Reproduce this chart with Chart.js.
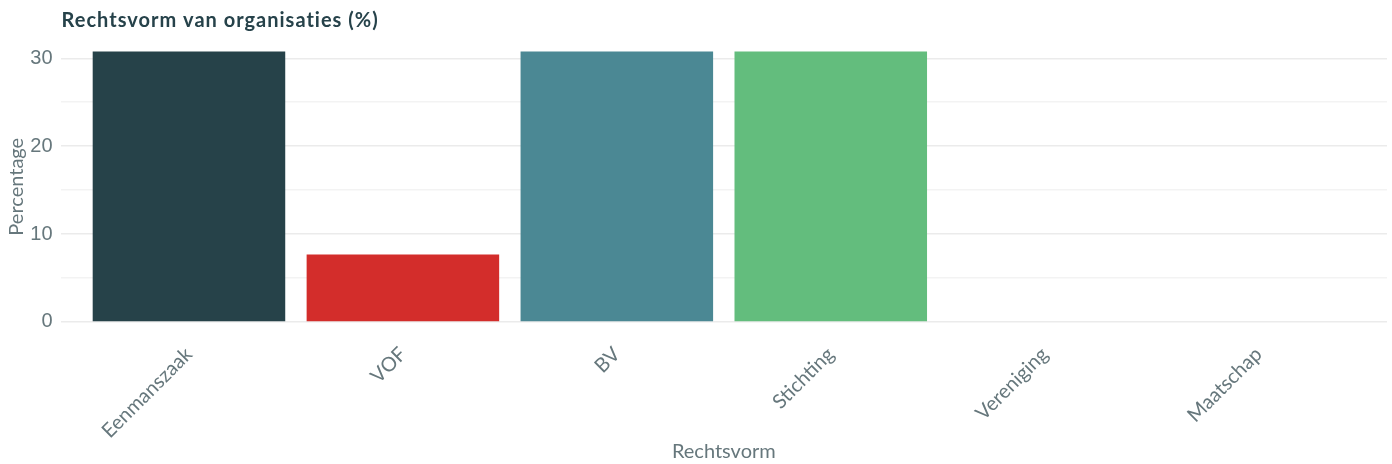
<!DOCTYPE html>
<html>
<head>
<meta charset="utf-8">
<script src="https://cdn.jsdelivr.net/npm/chart.js@4.4.1/dist/chart.umd.min.js"></script>
<style>
  html, body { margin: 0; padding: 0; background: #fff; }
  #wrap { width: 1392px; height: 464px; position: relative; }
</style>
</head>
<body>
<div id="wrap"><canvas id="chart" width="1392" height="464"></canvas></div>
<script>
const rechtsvormen = ['Eenmanszaak', 'VOF', 'BV', 'Stichting', 'Vereniging', 'Maatschap'];
const percentages = [30.77, 7.69, 30.77, 30.77, 0, 0];
const barColors = ['#264249', '#d32d2b', '#4b8894', '#63bd7d', '#9c9c9c', '#f0a830'];
const yTicks = [0, 5, 10, 15, 20, 25, 30];

const textColor = '#66777c';
const titleColor = '#26424a';

// title on the left edge of the plot panel (ZWNJ keeps Lato from joining "ti")
const panelTitle = {
    id: 'panelTitle',
    afterDraw(chart) {
        const ctx = chart.ctx;
        ctx.save();
        ctx.font = 'bold 20px Lato';
        ctx.letterSpacing = '1px';
        ctx.fillStyle = titleColor;
        ctx.textBaseline = 'middle';
        ctx.textAlign = 'left';
        ctx.fillText('Rechtsvorm van organisat\u200Cies (%)', chart.chartArea.left + 1, 21);
        ctx.restore();
    }
};

const ymax = Math.max(...percentages);
const pad = ymax * 0.05;

new Chart(document.getElementById('chart'), {
    type: 'bar',
    data: {
        datasets: [{
            data: percentages.map((v, i) => ({ x: i, y: v })),
            backgroundColor: barColors,
            borderWidth: 0,
            barPercentage: 0.9,
            categoryPercentage: 1
        }]
    },
    options: {
        responsive: false,
        animation: false,
        devicePixelRatio: 1,
        layout: { padding: { top: 38, right: 5, left: 0, bottom: 0 } },
        plugins: {
            legend: { display: false },
            tooltip: { enabled: false }
        },
        scales: {
            x: {
                type: 'linear',
                offset: false,
                min: -0.6,
                max: 5.6,
                afterBuildTicks: scale => {
                    scale.ticks = rechtsvormen.map((_, i) => ({ value: i }));
                },
                afterFit: scale => { scale.height = 128.5; },
                grid: { display: false, drawTicks: false },
                border: { display: false },
                ticks: {
                    autoSkip: false,
                    minRotation: 45,
                    maxRotation: 45,
                    padding: 7,
                    color: textColor,
                    font: { family: 'Lato', size: 20 },
                    callback: v => rechtsvormen[v]
                },
                title: {
                    display: true,
                    text: 'Rechtsvorm',
                    color: textColor,
                    font: { family: 'Lato', size: 20 },
                    padding: { top: 0, bottom: 0 }
                }
            },
            y: {
                min: -pad,
                max: ymax + pad,
                afterBuildTicks: scale => {
                    scale.ticks = yTicks.map(v => ({ value: v }));
                },
                afterFit: scale => { scale.width = 60.6; },
                grid: {
                    drawTicks: false,
                    lineWidth: 1.5,
                    color: c => (c.tick && c.tick.value % 10 === 0) ? '#ebebeb' : '#f3f3f3'
                },
                border: { display: false },
                ticks: {
                    padding: 8,
                    color: textColor,
                    font: { family: 'Liberation Sans', size: 20 },
                    callback: v => (v % 10 === 0 ? v : '')
                },
                title: {
                    display: true,
                    text: 'Percentage',
                    color: textColor,
                    font: { family: 'Lato', size: 20 },
                    padding: { top: 5, bottom: 0 }
                }
            }
        }
    },
    plugins: [panelTitle]
});
</script>
</body>
</html>
